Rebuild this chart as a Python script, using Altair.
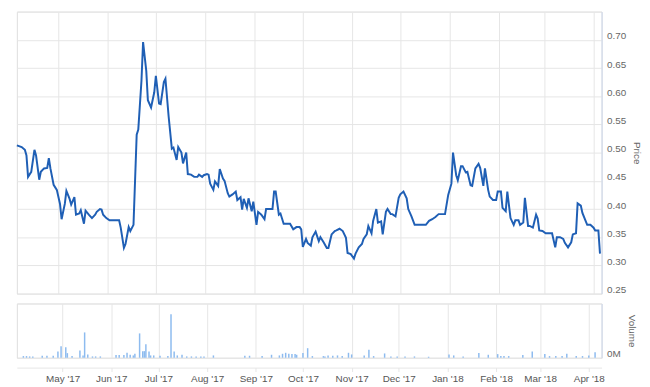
import altair as alt
import pandas as pd

# ---- price series ----
price_dates = [
    "2017-04-05","2017-04-08","2017-04-10","2017-04-11","2017-04-12","2017-04-14","2017-04-16","2017-04-17",
    "2017-04-19","2017-04-20","2017-04-22","2017-04-24","2017-04-25","2017-04-26","2017-04-28","2017-04-30",
    "2017-05-02","2017-05-03","2017-05-05","2017-05-06","2017-05-08","2017-05-09","2017-05-11","2017-05-12",
    "2017-05-14","2017-05-15","2017-05-17","2017-05-18","2017-05-20","2017-05-22","2017-05-24","2017-05-25",
    "2017-05-27","2017-05-28","2017-05-29","2017-05-31","2017-06-02","2017-06-04","2017-06-08","2017-06-09",
    "2017-06-11","2017-06-12","2017-06-14","2017-06-15","2017-06-17","2017-06-19","2017-06-20","2017-06-22",
    "2017-06-23","2017-06-25","2017-06-26","2017-06-28","2017-06-30","2017-07-01","2017-07-03","2017-07-04",
    "2017-07-06","2017-07-07","2017-07-09","2017-07-11","2017-07-12","2017-07-14","2017-07-15","2017-07-17",
    "2017-07-18","2017-07-20","2017-07-21","2017-07-23","2017-07-25","2017-07-27","2017-07-28","2017-07-30",
    "2017-07-31","2017-08-02","2017-08-03","2017-08-04","2017-08-06","2017-08-07","2017-08-09","2017-08-10",
    "2017-08-12","2017-08-13","2017-08-15","2017-08-16","2017-08-18","2017-08-20","2017-08-21","2017-08-23",
    "2017-08-24","2017-08-25","2017-08-27","2017-08-28","2017-08-30","2017-08-31","2017-09-02","2017-09-03",
    "2017-09-05","2017-09-07","2017-09-08","2017-09-10","2017-09-12","2017-09-13","2017-09-14","2017-09-16",
    "2017-09-17","2017-09-19","2017-09-21","2017-09-23","2017-09-25","2017-09-27","2017-09-29","2017-09-30",
    "2017-10-01","2017-10-03","2017-10-04","2017-10-06","2017-10-07","2017-10-09","2017-10-11","2017-10-12",
    "2017-10-14","2017-10-16","2017-10-17","2017-10-19","2017-10-21","2017-10-22","2017-10-24","2017-10-26",
    "2017-10-28","2017-10-29","2017-10-31","2017-11-02","2017-11-03","2017-11-05","2017-11-07","2017-11-08",
    "2017-11-10","2017-11-11","2017-11-13","2017-11-14","2017-11-16","2017-11-17","2017-11-19","2017-11-20",
    "2017-11-22","2017-11-23","2017-11-25","2017-11-26","2017-11-28","2017-11-30","2017-12-01","2017-12-03",
    "2017-12-05","2017-12-06","2017-12-08","2017-12-10","2017-12-13","2017-12-17","2017-12-19","2017-12-21",
    "2017-12-23","2017-12-25","2017-12-27","2017-12-29","2017-12-31","2018-01-02","2018-01-03","2018-01-05",
    "2018-01-06","2018-01-08","2018-01-09","2018-01-11","2018-01-12","2018-01-14","2018-01-15","2018-01-17",
    "2018-01-19","2018-01-20","2018-01-22","2018-01-23","2018-01-25","2018-01-26","2018-01-28","2018-01-30",
    "2018-01-31","2018-02-02","2018-02-03","2018-02-05","2018-02-06","2018-02-08","2018-02-10","2018-02-11",
    "2018-02-13","2018-02-14","2018-02-16","2018-02-17","2018-02-19","2018-02-20","2018-02-22","2018-02-24",
    "2018-02-25","2018-02-26","2018-02-28","2018-03-02","2018-03-04","2018-03-06","2018-03-08","2018-03-09",
    "2018-03-11","2018-03-13","2018-03-14","2018-03-16","2018-03-18","2018-03-19","2018-03-21","2018-03-22",
    "2018-03-24","2018-03-25","2018-03-27","2018-03-28","2018-03-30","2018-04-01","2018-04-02","2018-04-04",
    "2018-04-05",
]
price_values = [
    0.513,0.510,0.505,0.495,0.457,0.466,0.505,0.495,
    0.452,0.466,0.472,0.473,0.490,0.472,0.443,0.434,
    0.409,0.382,0.409,0.432,0.418,0.408,0.421,0.390,
    0.392,0.398,0.374,0.397,0.390,0.384,0.390,0.395,
    0.400,0.399,0.390,0.384,0.380,0.380,0.380,0.367,
    0.331,0.338,0.368,0.361,0.372,0.532,0.541,0.628,
    0.696,0.645,0.593,0.580,0.607,0.636,0.587,0.586,
    0.625,0.631,0.564,0.507,0.509,0.487,0.510,0.500,
    0.481,0.500,0.462,0.461,0.457,0.457,0.461,0.457,
    0.460,0.462,0.461,0.445,0.434,0.449,0.441,0.471,
    0.454,0.450,0.428,0.422,0.426,0.431,0.416,0.421,
    0.399,0.418,0.402,0.419,0.396,0.413,0.372,0.395,
    0.390,0.382,0.400,0.400,0.400,0.431,0.431,0.390,
    0.392,0.374,0.374,0.374,0.364,0.368,0.368,0.364,
    0.333,0.347,0.340,0.335,0.350,0.360,0.343,0.350,
    0.341,0.331,0.331,0.355,0.361,0.362,0.365,0.361,
    0.349,0.322,0.320,0.312,0.321,0.332,0.338,0.347,
    0.355,0.370,0.357,0.379,0.400,0.376,0.378,0.355,
    0.395,0.400,0.391,0.391,0.387,0.420,0.426,0.431,
    0.419,0.400,0.387,0.372,0.372,0.372,0.379,0.382,
    0.386,0.391,0.391,0.391,0.425,0.445,0.500,0.460,
    0.451,0.476,0.476,0.465,0.466,0.442,0.441,0.472,
    0.480,0.473,0.441,0.472,0.434,0.422,0.416,0.416,
    0.431,0.431,0.402,0.396,0.431,0.384,0.372,0.380,
    0.380,0.372,0.376,0.420,0.370,0.370,0.367,0.390,
    0.383,0.362,0.361,0.357,0.357,0.357,0.332,0.350,
    0.350,0.347,0.340,0.332,0.341,0.355,0.357,0.410,
    0.406,0.393,0.379,0.372,0.372,0.367,0.362,0.362,
    0.321,
]

# ---- volume series (shares) ----
volume_dates = [
    "2017-04-06","2017-04-08","2017-04-10","2017-04-12","2017-04-18","2017-04-21","2017-04-25","2017-04-28",
    "2017-04-30","2017-05-03","2017-05-04","2017-05-07","2017-05-12","2017-05-14","2017-05-15","2017-05-17",
    "2017-05-20","2017-05-22","2017-05-25","2017-06-04","2017-06-06","2017-06-09","2017-06-11","2017-06-13",
    "2017-06-15","2017-06-16","2017-06-19","2017-06-21","2017-06-22","2017-06-23","2017-06-25","2017-06-26",
    "2017-06-28","2017-07-02","2017-07-07","2017-07-09","2017-07-11","2017-07-13","2017-07-16","2017-07-19",
    "2017-07-22","2017-07-25","2017-07-28","2017-07-30","2017-08-05","2017-08-25","2017-08-28","2017-09-05",
    "2017-09-11","2017-09-16","2017-09-18","2017-09-20","2017-09-22","2017-09-24","2017-09-26","2017-09-27",
    "2017-10-01","2017-10-04","2017-10-07","2017-10-14","2017-10-15","2017-10-17","2017-10-20","2017-10-23",
    "2017-10-26","2017-10-30","2017-11-01","2017-11-09","2017-11-12","2017-11-15","2017-11-22","2017-11-26",
    "2017-11-30","2017-12-05","2017-12-11","2017-12-20","2018-01-02","2018-01-05","2018-01-11","2018-01-21",
    "2018-01-27","2018-02-02","2018-02-04","2018-02-06","2018-02-09","2018-02-18","2018-02-24","2018-03-04",
    "2018-03-07","2018-03-11","2018-03-15","2018-03-18","2018-03-24","2018-03-28","2018-04-01","2018-04-05",
]
volume_values = [
    5000,5000,4000,4000,6000,6000,6000,19000,
    35000,32000,14000,5000,22000,7000,77000,10000,
    4000,4000,4000,8000,8000,8000,15000,9000,
    7000,12000,74000,20000,20000,41000,19000,7000,
    7000,6000,5000,132000,19000,7000,9000,4000,
    4000,4000,4000,4000,7000,6000,6000,5000,
    9000,7000,12000,15000,12000,11000,11000,9000,
    14000,29000,5000,5000,4000,7000,6000,7000,
    5000,15000,10000,7000,24000,5000,13000,4000,
    4000,4000,4000,3000,10000,7000,4000,14000,
    9000,11000,5000,5000,5000,8000,19000,11000,
    5000,5000,5000,12000,5000,5000,7000,17000,
]

# ---- axis ticks ----
month_ticks = [(2017, m) for m in range(5, 13)] + [(2018, m) for m in range(1, 5)]
price_ticks = [0.25, 0.30, 0.35, 0.40, 0.45, 0.50, 0.55, 0.60, 0.65, 0.70, 0.75]

price_df = pd.DataFrame({"date": price_dates, "price": price_values})
vol_df = pd.DataFrame({"date": volume_dates, "volume": volume_values})

FONT = "Liberation Sans"
GRID = "#e6e6e6"
AXISLINE = "#ccd6eb"

x_scale = alt.Scale(
    type="utc",
    domain=[alt.DateTime(year=2017, month=4, date=5, utc=True),
            alt.DateTime(year=2018, month=4, date=6, utc=True)],
)
tick_values = [alt.DateTime(year=y, month=m, date=1, utc=True) for y, m in month_ticks]

price_chart = alt.Chart(price_df).mark_line(color="#1f5fb5", strokeWidth=2).encode(
    x=alt.X("date:T", scale=x_scale,
            axis=alt.Axis(values=tick_values, labels=False, ticks=False, domain=False,
                          grid=True, gridColor=GRID, title=None)),
    y=alt.Y("price:Q",
            scale=alt.Scale(domain=[0.25, 0.75], nice=False, zero=False),
            axis=alt.Axis(orient="right", values=price_ticks,
                          labelExpr="datum.value > 0.74 ? '' : format(datum.value, '.2f')",
                          grid=True, gridColor=GRID, ticks=False, domain=True,
                          domainColor=AXISLINE, labelPadding=5, labelOffset=-4,
                          labelColor="#666666", labelFontSize=10, labelFont=FONT,
                          title="Price", titleFont=FONT, titleFontSize=10,
                          titleFontWeight="normal", titleColor="#666666", titlePadding=6)),
).properties(width=593, height=286)

volume_chart = alt.Chart(vol_df).mark_bar(color="#8dbbef", size=1.5).encode(
    x=alt.X("date:T", scale=x_scale,
            axis=alt.Axis(values=tick_values, labelExpr="utcFormat(datum.value, \"%b '%y\")",
                          grid=True, gridColor=GRID, ticks=True, tickColor=GRID, tickSize=4,
                          domain=True, domainColor=GRID, offset=10, labelPadding=2,
                          labelColor="#555555", labelFontSize=10, labelFont=FONT,
                          labelFlush=False, title=None)),
    y=alt.Y("volume:Q",
            scale=alt.Scale(domain=[0, 165000], nice=False),
            axis=alt.Axis(orient="right", values=[0, 165000],
                          labelExpr="datum.value == 0 ? '0M' : ''",
                          grid=True, gridColor=GRID, ticks=False, domain=True,
                          domainColor=AXISLINE, labelPadding=5, labelOffset=-4,
                          labelColor="#666666", labelFontSize=10, labelFont=FONT,
                          title="Volume", titleFont=FONT, titleFontSize=10,
                          titleFontWeight="normal", titleColor="#666666", titlePadding=6)),
).properties(width=593, height=55)

chart = alt.vconcat(price_chart, volume_chart, spacing=7).properties(
    padding={"left": 4, "top": 0, "right": 0, "bottom": 0}
).configure_view(stroke=None).configure(background="white")

chart.save("out.html", embed_options={"renderer": "svg", "actions": False})
